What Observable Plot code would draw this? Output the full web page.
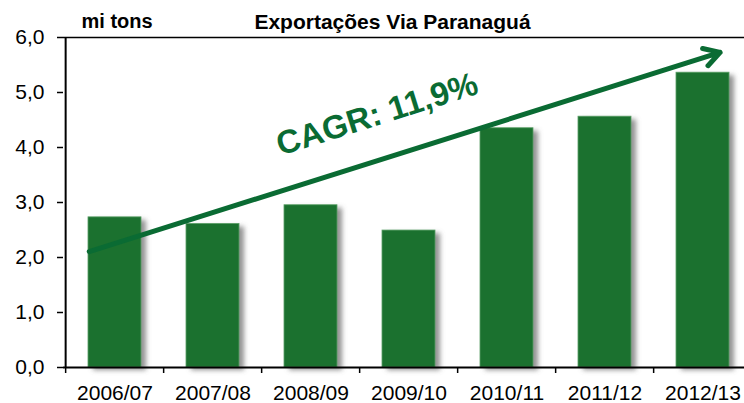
<!DOCTYPE html>
<html>
<head>
<meta charset="utf-8">
<script src="https://cdn.jsdelivr.net/npm/d3@7"></script>
<script src="https://cdn.jsdelivr.net/npm/@observablehq/plot@0.6"></script>
<style>
  html, body { margin: 0; padding: 0; background: #fff; overflow: hidden; }
  #chart { width: 744px; height: 403px; overflow: hidden; }
</style>
</head>
<body>
<div id="chart"></div>
<script>
// ---- data ----
const categories = ["2006/07", "2007/08", "2008/09", "2009/10", "2010/11", "2011/12", "2012/13"];
const values = [2.73, 2.61, 2.95, 2.49, 4.35, 4.56, 5.36];
const yTicks = [0, 1, 2, 3, 4, 5, 6];
const title = "Exportações Via Paranaguá";
const unitLabel = "mi tons";
const trendLabel = "CAGR: 11,9%";
const trendStartValue = 2.255; // at first category centre
const trendEndValue = 5.63;    // at last category centre

// ---- layout ----
const W = 744, H = 403;
const mL = 63, mR = -10, mT = 37, mB = 36;
const step = (W - mL - mR) / categories.length;
const font = "Liberation Sans, Arial, sans-serif";
const barColor = "#1b712f";
const green = "#0a6b33";

const rows = categories.map((c, i) => ({cat: c, value: values[i]}));
const trend = [{x1: categories[0], x2: categories[categories.length - 1], y1: trendStartValue, y2: trendEndValue}];

const chart = Plot.plot({
  width: W,
  height: H,
  marginLeft: mL,
  marginRight: mR,
  marginTop: mT,
  marginBottom: mB,
  style: {fontFamily: font, background: "#fff", overflow: "visible"},
  x: {type: "band", domain: categories, paddingInner: 0.46, paddingOuter: 0.23},
  y: {domain: [0, 6]},
  marks: [
    // shadow
    Plot.barY(rows, {x: "cat", y: "value", fill: "#6f6f6f", fillOpacity: 0.75, dx: 5, dy: 3}),
    // bars
    Plot.barY(rows, {x: "cat", y: "value", fill: barColor, stroke: "#5a9f66", strokeWidth: 0.8}),
    // frame lines
    Plot.ruleY([6], {stroke: "#000", strokeWidth: 1.5}),
    Plot.ruleY([0], {stroke: "#000", strokeWidth: 2}),
    Plot.ruleX([categories[0]], {dx: -step / 2, stroke: "#000", strokeWidth: 2}),
    // axes
    Plot.axisY({ticks: yTicks, tickFormat: d => d.toFixed(1).replace(".", ","), tickSize: 6, tickPadding: 13,
      fontSize: 21, strokeWidth: 1.5, fill: "#000", stroke: "#000"}),
    Plot.axisX({tickSize: 0, tickPadding: 18, fontSize: 21, fill: "#000"}),
    Plot.axisX({tickSize: 6, tickFormat: () => "", dx: -step / 2, strokeWidth: 1.5, stroke: "#000"}),
    // trend arrow
    Plot.arrow(trend, {x1: "x1", y1: "y1", x2: "x2", y2: "y2", stroke: green, strokeWidth: 5,
      headLength: 5.4, insetStart: -27, insetEnd: -18}),
    Plot.text([trendLabel], {x: () => categories[3], y: () => 4.6, text: d => d, dx: -32,
      rotate: -17.4, fontSize: 33, fontWeight: "bold", fill: green}),
    // titles
    Plot.text([title], {frameAnchor: "top", text: d => d, dx: -16.5, dy: -9, lineAnchor: "bottom",
      fontSize: 21, fontWeight: "bold", fill: "#000"}),
    Plot.text([unitLabel], {frameAnchor: "top-left", text: d => d, dx: 18, dy: -10, lineAnchor: "bottom",
      textAnchor: "start", fontSize: 20, fontWeight: "bold", fill: "#000"})
  ]
});

// blur the shadow bars
const defs = document.createElementNS("http://www.w3.org/2000/svg", "defs");
defs.innerHTML = '<filter id="barShadow" x="-50%" y="-50%" width="200%" height="200%"><feGaussianBlur stdDeviation="2.5"/></filter>';
chart.insertBefore(defs, chart.firstChild);
const barGroups = chart.querySelectorAll('g[aria-label="bar"]');
if (barGroups.length) barGroups[0].setAttribute("filter", "url(#barShadow)");

document.getElementById("chart").appendChild(chart);
</script>
</body>
</html>
